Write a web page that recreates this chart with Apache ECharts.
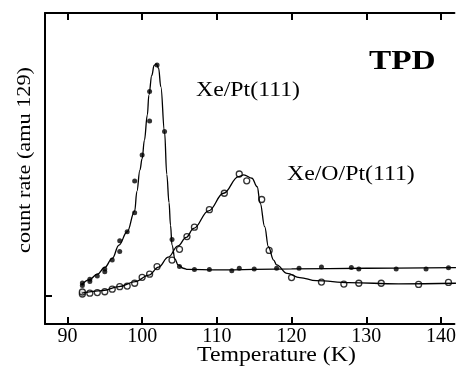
<!DOCTYPE html>
<html>
<head>
<meta charset="utf-8">
<script src="https://cdn.jsdelivr.net/npm/echarts@6/dist/echarts.min.js"></script>
<style>
  html, body { margin: 0; padding: 0; background: #fff; }
  #tpd { width: 459px; height: 373px; }
</style>
</head>
<body>
<div id="tpd"></div>
<script>
// 测量点 Xe/Pt(111) (实心点)
const ptDotsT = [92, 92, 93, 93, 94, 95, 95, 96, 97, 97, 98, 99, 99, 100, 101, 101, 102, 103, 104, 105, 107, 109, 112, 113, 115, 118, 121, 124, 128, 129, 134, 138, 141];
const ptDotsRate = [3.7, 4.6, 5.1, 5.9, 7.1, 8.6, 9.5, 12.7, 15.7, 19.5, 22.7, 29.4, 40.6, 49.8, 61.8, 72.3, 81.6, 58.1, 20.0, 10.4, 9.4, 9.4, 8.9, 9.8, 9.5, 9.8, 9.8, 10.2, 10.1, 9.5, 9.5, 9.5, 10.0];

// 测量点 Xe/O/Pt(111) (空心圆)
const oDotsT = [92, 92, 93, 94, 95, 96, 97, 98, 99, 100, 101, 102, 104, 105, 106, 107, 109, 111, 113, 114, 116, 117, 120, 124, 127, 129, 132, 137, 141];
const oDotsRate = [0.7, 1.4, 1.0, 1.2, 1.5, 2.4, 3.3, 3.5, 4.5, 6.6, 7.7, 10.4, 12.7, 16.5, 21.0, 24.3, 30.5, 36.3, 43.1, 40.7, 34.1, 16.1, 6.5, 4.9, 4.2, 4.5, 4.5, 4.1, 4.8];

// 拟合曲线
const ptFitT = [91.9, 92.9, 94.0, 95.0, 96.0, 96.9, 98.0, 99.0, 99.3, 99.7, 100.0, 100.3, 100.7, 100.9, 101.3, 101.6, 101.9, 102.2, 102.5, 103.0, 103.3, 103.6, 103.8, 104.0, 104.4, 104.8, 105.5, 106.1, 110, 120, 130, 142];
const ptFitRate = [3.9, 5.7, 7.7, 10.1, 13.3, 18.0, 22.7, 30.0, 37.0, 44.5, 48.5, 55.0, 64.0, 71.0, 78.0, 81.5, 82.0, 80.5, 74.0, 58.0, 43.0, 33.0, 25.0, 18.0, 13.0, 11.0, 9.8, 9.4, 9.2, 9.6, 9.8, 10.0];

const oFitT = [91.9, 94.7, 96.9, 99.1, 100.9, 102.2, 103.5, 104.8, 105.9, 106.9, 108.9, 110.9, 112.9, 113.6, 114.7, 115.4, 115.8, 116.4, 116.9, 117.6, 118.0, 119.4, 121.1, 123.3, 127.7, 134.3, 142];
const oFitRate = [1.0, 1.9, 3.3, 5.1, 7.4, 10.2, 13.7, 17.7, 20.7, 23.9, 30.1, 36.3, 42.2, 42.8, 41.6, 38.6, 32.8, 24.5, 17.4, 12.7, 11.0, 8.0, 6.5, 5.4, 4.7, 4.3, 4.5];

// 坐标轴刻度
const tempTicks = [90, 100, 110, 120, 130, 140];
const rateTicks = [0];

const serif = 'Liberation Serif';
const pairs = (xs, ys) => xs.map((x, i) => [x, ys[i]]);

const chart = echarts.init(document.getElementById('tpd'));

const tickStyle = { color: '#000', width: 2 };
const frameAxis = {
  type: 'value',
  min: 87,
  max: 141.8,
  axisLine: { show: true, onZero: false, lineStyle: { color: '#000', width: 2 } },
  splitLine: { show: false }
};

// 文字 (原图字体偏宽, 用 scaleX 拉宽)
const label = (text, left, top, size, bold) => ({
  type: 'text', x: left, y: top, scaleX: 1.19,
  style: { text: text, font: (bold ? 'bold ' : '') + size + 'px "Liberation Serif"', fill: '#000' }
});

chart.setOption({
  animation: false,
  backgroundColor: '#fff',
  grid: { left: 45, right: 0, top: 13, bottom: 49 },
  xAxis: [
    Object.assign({}, frameAxis, {
      position: 'bottom',
      axisTick: { show: true, inside: true, length: 7, lineStyle: tickStyle, customValues: tempTicks },
      axisLabel: { show: true, color: '#000', fontFamily: serif, fontSize: 20, margin: 3, customValues: tempTicks }
    }),
    Object.assign({}, frameAxis, {
      position: 'top',
      axisTick: { show: true, inside: true, length: 7, lineStyle: tickStyle, customValues: tempTicks },
      axisLabel: { show: false }
    })
  ],
  yAxis: {
    type: 'value',
    min: -9.9,
    max: 100,
    axisLine: { show: true, onZero: false, lineStyle: { color: '#000', width: 2 } },
    axisTick: { show: true, inside: true, length: 7, lineStyle: tickStyle, customValues: rateTicks },
    axisLabel: { show: false },
    splitLine: { show: false }
  },
  graphic: [
    label('Xe/Pt(111)', 196, 81, 20),
    label('Xe/O/Pt(111)', 287, 165, 20),
    label('TPD', 369, 48, 28, true),
    label('Temperature (K)', 197, 346, 20),
    {
      type: 'text', x: 25, y: 160, rotation: Math.PI / 2, scaleX: 1.17,
      style: { text: 'count rate (amu 129)', font: '19px "Liberation Serif"', fill: '#000', align: 'center', verticalAlign: 'middle' }
    }
  ],
  series: [
    {
      name: 'Xe/Pt fit', type: 'line', data: pairs(ptFitT, ptFitRate),
      smooth: 0.4, smoothMonotone: 'x', showSymbol: false,
      lineStyle: { color: '#000', width: 1.3 }
    },
    {
      name: 'Xe/O fit', type: 'line', data: pairs(oFitT, oFitRate),
      smooth: 0.4, smoothMonotone: 'x', showSymbol: false,
      lineStyle: { color: '#000', width: 1.3 }
    },
    {
      name: 'Xe/Pt(111)', type: 'scatter', data: pairs(ptDotsT, ptDotsRate),
      symbol: 'circle', symbolSize: 5,
      itemStyle: { color: '#000' }
    },
    {
      name: 'Xe/O/Pt(111)', type: 'scatter', data: pairs(oDotsT, oDotsRate),
      symbol: 'circle', symbolSize: 6,
      itemStyle: { color: '#fff', borderColor: '#000', borderWidth: 1.3 }
    }
  ]
});
</script>
</body>
</html>
